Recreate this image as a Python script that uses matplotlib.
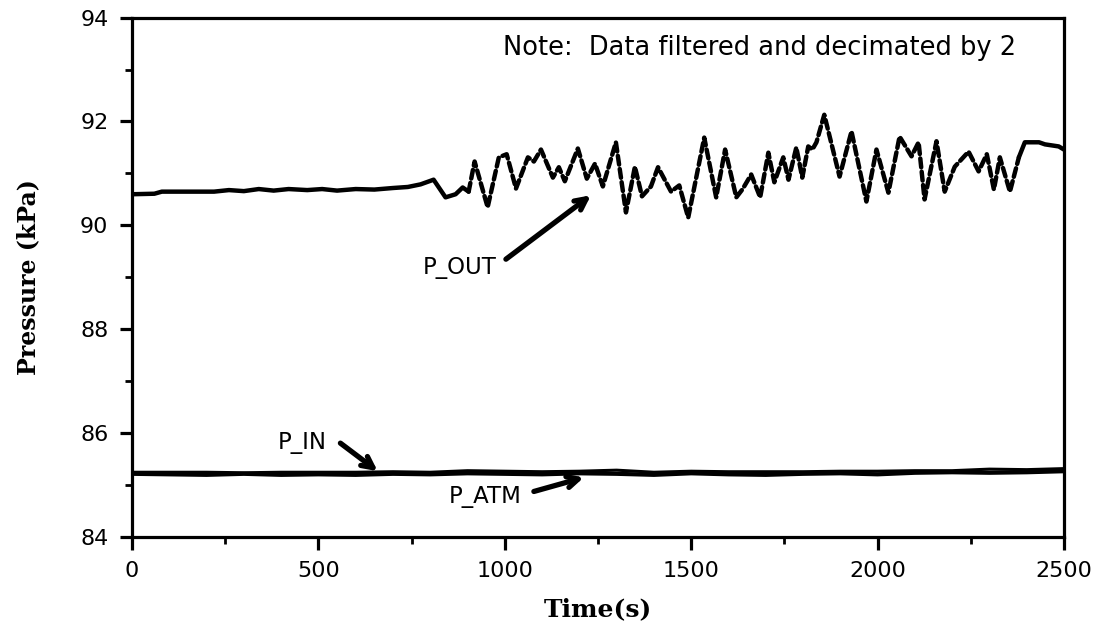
import numpy as np
import matplotlib.pyplot as plt
from matplotlib.ticker import MultipleLocator

# P_OUT trace (time in s, pressure in kPa)
t_out = [0, 60, 80, 220, 260, 300, 340, 380, 420, 470, 510, 550, 600, 650, 700,
         740, 774, 809, 841, 868, 887, 903, 919, 954, 984, 1005, 1030, 1062, 1078,
         1097, 1129, 1145, 1161, 1196, 1220, 1242, 1263, 1298, 1325, 1349, 1368,
         1392, 1411, 1446, 1468, 1492, 1535, 1567, 1591, 1621, 1638, 1661, 1685,
         1707, 1723, 1747, 1761, 1782, 1798, 1814, 1825, 1836, 1857, 1898, 1930,
         1970, 1997, 2029, 2059, 2091, 2110, 2126, 2158, 2180, 2207, 2244, 2271,
         2293, 2312, 2328, 2355, 2379, 2395, 2433, 2449, 2486, 2500]
p_out = [90.60, 90.61, 90.65, 90.65, 90.68, 90.66, 90.70, 90.67, 90.70, 90.68,
         90.70, 90.67, 90.70, 90.69, 90.72, 90.74, 90.79, 90.88, 90.54, 90.60,
         90.73, 90.65, 91.23, 90.35, 91.31, 91.37, 90.71, 91.31, 91.23, 91.46,
         90.92, 91.12, 90.85, 91.48, 90.90, 91.19, 90.75, 91.60, 90.25, 91.13,
         90.56, 90.75, 91.12, 90.65, 90.77, 90.15, 91.69, 90.54, 91.46, 90.54,
         90.70, 90.98, 90.54, 91.40, 90.83, 91.31, 90.88, 91.50, 90.92, 91.52,
         91.46, 91.60, 92.13, 90.94, 91.81, 90.46, 91.46, 90.63, 91.71, 91.33,
         91.60, 90.50, 91.62, 90.65, 91.13, 91.42, 91.04, 91.37, 90.69, 91.31,
         90.65, 91.31, 91.60, 91.60, 91.56, 91.52, 91.46]

# P_IN and P_ATM traces
t_low = [0, 100, 200, 300, 400, 500, 600, 700, 800, 900, 1000, 1100, 1200,
         1300, 1400, 1500, 1600, 1700, 1800, 1900, 2000, 2100, 2200, 2300,
         2400, 2500]
p_in = [85.25, 85.25, 85.25, 85.24, 85.25, 85.25, 85.25, 85.26, 85.25, 85.28,
        85.27, 85.26, 85.27, 85.29, 85.25, 85.27, 85.26, 85.26, 85.26, 85.27,
        85.27, 85.28, 85.28, 85.31, 85.30, 85.32]
p_atm = [85.22, 85.21, 85.20, 85.22, 85.20, 85.21, 85.20, 85.22, 85.21, 85.23,
         85.22, 85.21, 85.23, 85.22, 85.20, 85.23, 85.21, 85.20, 85.22, 85.23,
         85.21, 85.24, 85.25, 85.24, 85.25, 85.27]

assert len(t_out) == len(p_out)

fig = plt.figure(figsize=(11.02, 6.32), dpi=100)
ax = fig.add_axes([0.1198, 0.150, 0.8457, 0.8222])

t_out = np.array(t_out)
p_out = np.array(p_out)
i1 = np.searchsorted(t_out, 903)
i2 = np.searchsorted(t_out, 2379)

# solid before and after the oscillating stretch, dashed in between
ax.plot(t_out[:i1 + 1], p_out[:i1 + 1], color="black", lw=3.2,
        solid_joinstyle="round", solid_capstyle="round")
ax.plot(t_out[i1:i2 + 1], p_out[i1:i2 + 1], color="black", lw=3.2,
        dashes=(2.0, 1.0), dash_capstyle="round", dash_joinstyle="round")
ax.plot(t_out[i2:], p_out[i2:], color="black", lw=3.2,
        solid_joinstyle="round", solid_capstyle="round")

ax.plot(t_low, p_atm, color="black", lw=3.0)
ax.plot(t_low, p_in, color="black", lw=2.2)

ax.set_xlim(0, 2500)
ax.set_ylim(84, 94)
ax.xaxis.set_major_locator(MultipleLocator(500))
ax.xaxis.set_minor_locator(MultipleLocator(250))
ax.yaxis.set_major_locator(MultipleLocator(2))
ax.yaxis.set_minor_locator(MultipleLocator(1))

for s in ax.spines.values():
    s.set_linewidth(2.3)
ax.tick_params(which="major", direction="out", length=9, width=2.3,
               labelsize=16, pad=8)
ax.tick_params(which="minor", direction="out", length=5, width=2.0)
ax.tick_params(top=False, right=False, which="both")

ax.set_xlabel("Time(s)", fontsize=18, fontweight="bold", family="DejaVu Serif",
              labelpad=12)
ax.set_ylabel("Pressure (kPa)", fontsize=17, fontweight="bold",
              family="DejaVu Serif", labelpad=29)

ax.text(1683, 93.42, "Note:  Data filtered and decimated by 2", fontsize=18.5,
        ha="center", va="center")

arrow = dict(arrowstyle="->,head_length=0.8,head_width=0.4", lw=3.8,
             color="black", shrinkA=0, shrinkB=0)
ax.text(780, 89.19, "P_OUT", fontsize=16.5, va="center", ha="left")
ax.annotate("", xy=(1231, 90.58), xytext=(1003, 89.35), arrowprops=arrow)
ax.text(392, 85.83, "P_IN", fontsize=16.5, va="center", ha="left")
ax.annotate("", xy=(659, 85.27), xytext=(559, 85.81), arrowprops=arrow)
ax.text(849, 84.79, "P_ATM", fontsize=16.5, va="center", ha="left")
ax.annotate("", xy=(1212, 85.15), xytext=(1078, 84.88), arrowprops=arrow)

fig.savefig("out.png", dpi=100)
